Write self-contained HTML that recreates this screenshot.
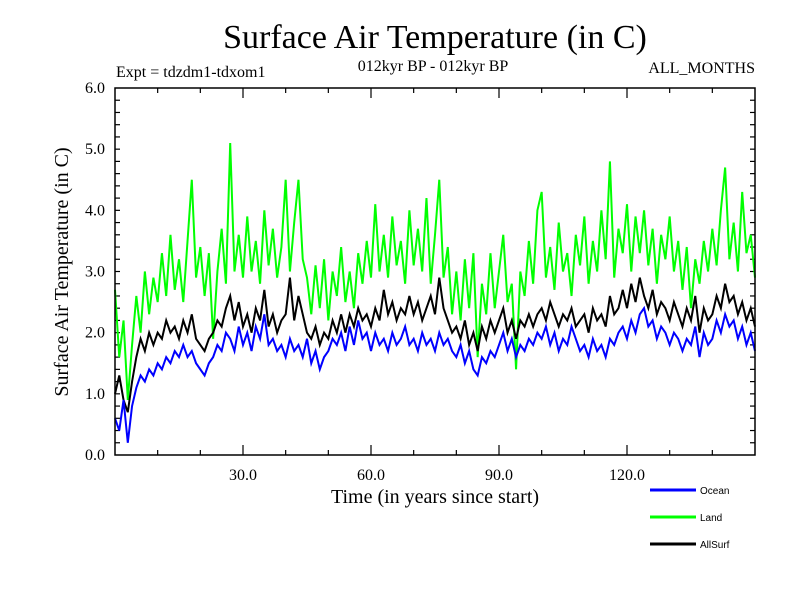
<!DOCTYPE html>
<html><head><meta charset="utf-8"><style>
body{margin:0;background:#fff}
svg text{font-family:"Liberation Serif",serif;fill:#000}
</style></head><body>
<svg id="c" width="800" height="600" xmlns="http://www.w3.org/2000/svg">
<rect width="800" height="600" fill="#fff"/>
<text x="435" y="48" font-size="34" text-anchor="middle">Surface Air Temperature (in C)</text>
<text x="116" y="77" font-size="16">Expt = tdzdm1-tdxom1</text>
<text x="433" y="71" font-size="16" text-anchor="middle">012kyr BP - 012kyr BP</text>
<text x="755" y="73" font-size="16" text-anchor="end">ALL_MONTHS</text>
<text x="435" y="503" font-size="20" text-anchor="middle">Time (in years since start)</text>
<text transform="translate(68,272) rotate(-90)" font-size="20" text-anchor="middle">Surface Air Temperature (in C)</text>
<g id="ticks"></g>
<g id="series"></g>
<rect x="115" y="88" width="640" height="367" fill="none" stroke="#000" stroke-width="1.5"/>
<g id="legend"></g>
</svg>
<script>
const years = Array.from({length:151},(_,i)=>i);
const landValues = [2.7,1.6,2.2,0.9,1.8,2.6,2.0,3.0,2.3,2.9,
2.5,3.3,2.6,3.6,2.7,3.2,2.5,3.5,4.5,2.9,
3.4,2.6,3.3,1.9,3.0,3.7,2.8,5.1,3.0,3.6,
2.9,3.9,3.0,3.5,2.8,4.0,3.1,3.7,2.9,3.4,
4.5,3.0,3.8,4.5,3.2,2.9,2.3,3.1,2.4,3.2,
2.2,3.0,2.6,3.4,2.5,3.0,2.4,3.3,2.8,3.5,
2.9,4.1,3.0,3.6,2.9,3.9,3.1,3.5,2.8,4.0,
3.1,3.7,3.0,4.2,2.8,3.6,4.5,2.9,3.4,2.3,
3.0,2.2,3.2,2.4,3.3,1.6,2.8,2.3,3.3,2.4,
3.0,3.6,2.5,2.8,1.4,3.0,2.6,3.5,2.8,4.0,
4.3,2.9,3.4,2.7,3.8,3.0,3.3,2.6,3.6,3.1,
3.9,2.8,3.5,3.0,4.0,3.2,4.8,2.9,3.7,3.3,
4.1,3.0,3.9,3.3,4.0,3.1,3.7,2.8,3.6,3.2,
3.9,3.0,3.5,2.7,3.4,2.4,3.2,2.8,3.5,3.0,
3.7,3.1,4.0,4.7,3.2,3.8,3.0,4.3,3.3,3.6,2.9];
const oceanValues = [0.6,0.4,0.9,0.2,0.8,1.1,1.3,1.2,1.4,1.3,
1.5,1.4,1.6,1.5,1.7,1.6,1.8,1.6,1.7,1.5,
1.4,1.3,1.5,1.6,1.8,1.7,2.0,1.9,1.7,2.1,
1.8,2.0,1.7,2.1,1.9,2.3,1.8,1.9,1.7,1.8,
1.6,1.9,1.7,1.8,1.6,1.9,1.5,1.7,1.4,1.6,
1.7,1.9,1.8,2.0,1.7,2.1,1.8,2.2,1.9,2.0,
1.7,2.0,1.8,1.9,1.7,2.0,1.8,1.9,2.1,1.8,
1.9,1.7,2.0,1.8,1.9,1.7,2.0,1.8,1.9,1.7,
1.6,1.8,1.5,1.7,1.4,1.3,1.6,1.5,1.7,1.6,
1.8,2.0,1.7,1.9,1.6,1.8,1.7,1.9,1.8,2.0,
1.9,2.1,1.8,2.0,1.7,1.9,1.8,2.1,1.9,1.7,
1.8,1.6,1.9,1.7,1.8,1.6,1.9,1.8,2.0,2.1,
1.9,2.2,2.0,2.3,2.4,2.1,2.2,1.9,2.1,2.0,
1.8,2.0,1.9,1.7,1.9,1.8,2.1,1.6,2.0,1.8,
1.9,2.2,2.0,2.3,2.1,2.2,1.9,2.1,1.8,2.0,1.7];
const allSurfValues = [1.0,1.3,0.9,0.7,1.2,1.6,1.9,1.7,2.0,1.8,
2.0,1.9,2.2,2.0,2.1,1.9,2.2,2.0,2.3,1.9,
1.8,1.7,1.9,2.0,2.2,2.1,2.4,2.6,2.2,2.5,
2.1,2.3,2.0,2.4,2.2,2.7,2.1,2.3,2.0,2.2,
2.3,2.9,2.2,2.6,2.3,2.0,1.9,2.1,1.8,2.0,
1.9,2.2,2.0,2.3,2.0,2.3,2.1,2.4,2.2,2.3,
2.1,2.4,2.2,2.7,2.3,2.5,2.2,2.4,2.3,2.6,
2.3,2.5,2.2,2.4,2.6,2.3,2.9,2.4,2.2,2.0,
2.1,1.9,2.2,1.8,2.0,1.7,2.1,1.9,2.2,2.0,
2.2,2.4,2.0,2.2,1.9,2.2,2.1,2.3,2.1,2.3,
2.4,2.2,2.5,2.3,2.1,2.3,2.2,2.4,2.1,2.2,
2.3,2.0,2.4,2.2,2.3,2.1,2.6,2.3,2.4,2.7,
2.4,2.8,2.5,2.9,2.6,2.4,2.7,2.3,2.5,2.4,
2.2,2.5,2.3,2.1,2.4,2.2,2.6,2.0,2.4,2.2,
2.3,2.6,2.4,2.8,2.5,2.6,2.3,2.5,2.2,2.4,2.1];
const xTickLabels = ["30.0","60.0","90.0","120.0"];
const xTickValues = [30,60,90,120];
const yTickLabels = ["0.0","1.0","2.0","3.0","4.0","5.0","6.0"];
const yTickValues = [0,1,2,3,4,5,6];

const X0=115,X1=755,Y0=455,Y1=88,XMAX=150,YMAX=6;
const sx=v=>X0+(X1-X0)*v/XMAX;
const sy=v=>Y0-(Y0-Y1)*v/YMAX;
const NS="http://www.w3.org/2000/svg";
const tg=document.getElementById('ticks');
function line(g,x1,y1,x2,y2,name){const l=document.createElementNS(NS,'line');
l.setAttribute('x1',x1);l.setAttribute('y1',y1);l.setAttribute('x2',x2);l.setAttribute('y2',y2);
l.setAttribute('stroke','#000');l.setAttribute('stroke-width','1.2');


g.appendChild(l);}
for(let v=10;v<XMAX;v+=10){const L=(v%30===0)?10:5;const x=sx(v);
line(tg,x,Y0,x,Y0-L,'x-tick');line(tg,x,Y1,x,Y1+L,'x-tick-top');}
for(let k=1;k<30;k++){const v=k*0.2;const y=sy(v);
line(tg,X0,y,X0+5,y,'y-tick');line(tg,X1,y,X1-5,y,'y-tick-right');}
xTickValues.forEach((v,i)=>{const t=document.createElementNS(NS,'text');
t.setAttribute('x',sx(v));t.setAttribute('y',Y0+25);t.setAttribute('font-size','16');t.setAttribute('text-anchor','middle');
t.textContent=xTickLabels[i];


tg.appendChild(t);});
yTickValues.forEach((v,i)=>{const t=document.createElementNS(NS,'text');
t.setAttribute('x',X0-10);t.setAttribute('y',sy(v)+5);t.setAttribute('font-size','16');t.setAttribute('text-anchor','end');
t.textContent=yTickLabels[i];


tg.appendChild(t);});
const sg=document.getElementById('series');
function series(vals,color,name){const p=document.createElementNS(NS,'polyline');
p.setAttribute('points',vals.map((v,i)=>sx(years[i])+','+sy(v)).join(' '));
p.setAttribute('fill','none');p.setAttribute('stroke',color);p.setAttribute('stroke-width','2');p.setAttribute('stroke-linejoin','miter');


sg.appendChild(p);}
series(landValues,'#00ff00','land-line');
series(allSurfValues,'#000000','allsurf-line');
series(oceanValues,'#0000ff','ocean-line');
const lg=document.getElementById('legend');
[['Ocean','#0000ff',490,'legend-ocean'],['Land','#00ff00',517,'legend-land'],['AllSurf','#000000',544,'legend-allsurf']].forEach(e=>{
const g=document.createElementNS(NS,'g');


const l=document.createElementNS(NS,'line');l.setAttribute('x1',650);l.setAttribute('x2',696);l.setAttribute('y1',e[2]);l.setAttribute('y2',e[2]);
l.setAttribute('stroke',e[1]);l.setAttribute('stroke-width','3');g.appendChild(l);
const t=document.createElementNS(NS,'text');t.setAttribute('x',700);t.setAttribute('y',e[2]+4);t.setAttribute('font-size','10');
t.setAttribute('style','font-family:"Liberation Sans",sans-serif');t.textContent=e[0];g.appendChild(t);
lg.appendChild(g);});
</script>
</body></html>
